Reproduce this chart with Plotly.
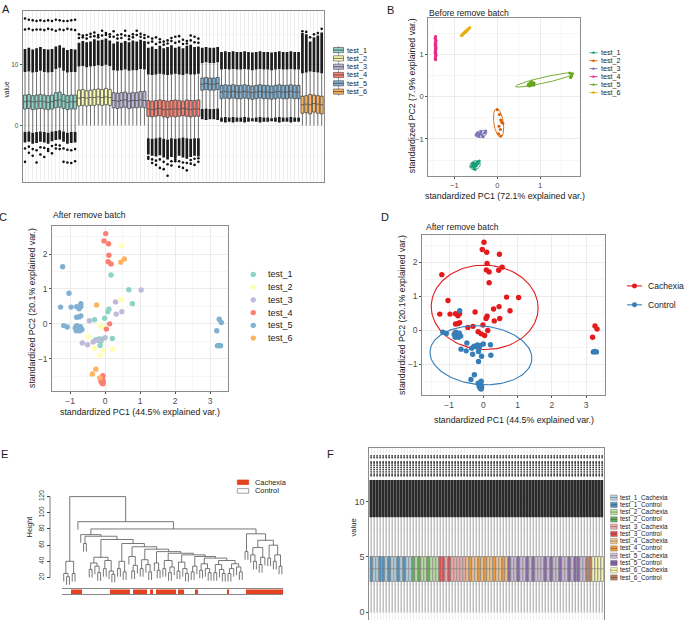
import numpy as np
import plotly.graph_objects as go

W, H = 685, 620
FONT = "Liberation Sans, Arial, Helvetica, sans-serif"
INK = "#1a1a1a"
TICKC = "#4d4d4d"
GRID = "#ebebeb"
MINOR = "#f6f6f6"
FRAME = "#8c8c8c"


def PX(x):
    return x / W


def PY(y):
    return 1 - y / H


# ============================ DATA ============================
batches = ["test_1", "test_2", "test_3", "test_4", "test_5", "test_6"]
batch_sizes = [14, 9, 9, 14, 26, 6]
set3 = ["#8DD3C7", "#FFFFB3", "#BEBADA", "#FB8072", "#80B1D3", "#FDB462"]
dark2 = ["#1B9E77", "#D95F02", "#7570B3", "#E7298A", "#66A61E", "#E6AB02"]
conditions = ["Cachexia", "Control"]
set1 = ["#E41A1C", "#377EB8"]

# ---- Panel A : per-sample box statistics (78 samples in batch order) ----
A_q1 = [2.7, 2.8, 2.6, 2.7, 2.8, 2.7, 2.6, 2.7, 2.9, 3.0, 2.8, 2.6, 2.7, 2.7,
        3.2, 3.3, 3.2, 3.3, 3.3, 3.4, 3.3, 3.4, 3.3,
        2.9, 2.8, 2.9, 3.0, 2.8, 2.9, 2.9, 3.0, 2.9,
        1.5, 1.4, 1.5, 1.6, 1.4, 1.3, 1.5, 1.4, 1.5, 1.6, 1.5, 1.4, 1.5, 1.5,
        5.8, 5.9, 5.8, 5.8, 5.9,
        4.4, 4.5, 4.4, 4.5, 4.4, 4.4, 4.5, 4.4, 4.3, 4.4, 4.5, 4.4, 4.4, 4.3, 4.4, 4.5, 4.4, 4.4, 4.5, 4.4, 4.4,
        2.0, 2.1, 1.9, 2.2, 2.0, 1.9]
A_med = [3.9, 4.0, 3.9, 3.9, 4.0, 3.9, 3.8, 3.9, 4.1, 4.2, 4.0, 3.8, 3.9, 3.9,
         4.5, 4.6, 4.5, 4.6, 4.6, 4.7, 4.6, 4.7, 4.6,
         4.1, 4.0, 4.1, 4.2, 4.0, 4.1, 4.1, 4.2, 4.1,
         2.7, 2.6, 2.7, 2.8, 2.6, 2.6, 2.7, 2.7, 2.7, 2.8, 2.7, 2.6, 2.7, 2.7,
         6.8, 6.9, 6.8, 6.8, 6.9,
         5.5, 5.6, 5.5, 5.6, 5.5, 5.5, 5.6, 5.5, 5.4, 5.5, 5.6, 5.5, 5.5, 5.4, 5.5, 5.6, 5.5, 5.5, 5.6, 5.5, 5.5,
         3.4, 3.5, 3.4, 3.6, 3.5, 3.4]
A_q3 = [5.0, 5.1, 4.9, 5.0, 5.1, 5.0, 4.9, 5.0, 5.4, 5.5, 5.1, 4.9, 5.0, 5.0,
        5.8, 5.9, 5.7, 5.8, 5.9, 6.0, 5.9, 6.1, 5.9,
        5.4, 5.3, 5.4, 5.5, 5.3, 5.4, 5.4, 5.6, 5.6,
        4.1, 4.0, 4.1, 4.2, 4.1, 4.0, 4.1, 4.2, 4.1, 4.0, 4.2, 4.1, 4.1, 4.2,
        7.8, 7.9, 7.8, 7.8, 7.9,
        6.6, 6.7, 6.6, 6.7, 6.6, 6.6, 6.7, 6.6, 6.5, 6.6, 6.7, 6.6, 6.6, 6.5, 6.6, 6.7, 6.6, 6.6, 6.7, 6.6, 6.6,
        4.8, 4.9, 5.1, 5.0, 4.9, 4.8]
A_whisk_lo = [-1.1, -1.0, -1.2, -1.1, -1.0, -1.1, -1.2, -1.0, -0.9, -0.8, -1.0, -1.2, -1.1, -1.1,
              0.0, 0.0, 0.0, 0.0, 0.0, 0.0, 0.0, 0.0, 0.0,
              0.0, 0.0, 0.0, 0.0, 0.0, 0.0, 0.0, 0.0, 0.0,
              -2.1, -2.2, -2.1, -2.0, -2.2, -2.3, -2.1, -2.2, -2.1, -2.0, -2.1, -2.2, -2.1, -2.1,
              2.7, 2.8, 2.7, 2.7, 2.8,
              1.3, 1.4, 1.3, 1.4, 1.3, 1.3, 1.4, 1.3, 1.2, 1.3, 1.4, 1.3, 1.3, 1.2, 1.3, 1.4, 1.3, 1.3, 1.4, 1.3, 1.3,
              0.0, 0.0, 0.0, 0.0, 0.0, 0.0]
A_whisk_hi = [8.8, 8.9, 8.7, 8.8, 9.0, 8.8, 8.7, 8.8, 9.3, 9.5, 9.0, 8.7, 8.8, 8.8,
              9.7, 9.8, 9.6, 9.7, 9.8, 9.9, 9.8, 10.0, 9.8,
              9.1, 9.0, 9.1, 9.2, 9.0, 9.1, 9.1, 9.3, 9.2,
              8.4, 8.3, 8.4, 8.5, 8.4, 8.3, 8.4, 8.5, 8.4, 8.3, 8.5, 8.4, 8.4, 8.5,
              10.3, 10.4, 10.3, 10.3, 10.4,
              9.2, 9.3, 9.2, 9.3, 9.2, 9.2, 9.3, 9.2, 9.1, 9.2, 9.3, 9.2, 9.2, 9.1, 9.2, 9.3, 9.2, 9.2, 9.3, 9.2, 9.2,
              8.6, 8.7, 8.9, 8.8, 8.7, 8.6]
# dense run of upper outliers (from the upper whisker up to this value)
A_dense_top = [12.6, 12.8, 12.5, 12.7, 12.9, 12.6, 12.5, 12.6, 13.0, 13.2, 12.8, 12.4, 12.6, 12.5,
               13.6, 13.9, 13.7, 13.8, 14.2, 14.0, 14.1, 14.3, 14.0,
               13.5, 13.8, 13.6, 13.9, 13.7, 14.0, 13.8, 14.1, 13.9,
               12.8, 13.0, 12.6, 13.1, 12.7, 12.9, 13.2, 12.8, 13.0, 12.7, 13.1, 13.3, 12.9, 13.0,
               12.8, 12.9, 12.8, 12.8, 12.9,
               12.1, 12.2, 12.1, 12.2, 12.1, 12.1, 12.2, 12.1, 12.0, 12.1, 12.2, 12.1, 12.1, 12.0, 12.1, 12.2, 12.1, 12.1, 12.2, 12.1, 12.1,
               15.2, 15.0, 13.8, 14.5, 14.8, 15.3]
# dense run of lower outliers (from the lower whisker down to this value)
A_dense_bot = [-2.8, -2.7, -3.0, -2.9, -2.7, -2.8, -3.0, -2.6, -2.4, -2.3, -2.7, -3.0, -2.9, -2.8,
               0.0, 0.0, 0.0, 0.0, 0.0, 0.0, 0.0, 0.0, 0.0,
               0.0, 0.0, 0.0, 0.0, 0.0, 0.0, 0.0, 0.0, 0.0,
               -4.8, -5.0, -5.1, -4.9, -5.3, -5.6, -5.2, -5.4, -5.0, -5.3, -5.5, -5.2, -5.0, -5.1,
               1.0, 0.9, 1.0, 1.0, 0.9,
               0.6, 0.5, 0.6, 0.5, 0.6, 0.6, 0.5, 0.6, 0.7, 0.6, 0.5, 0.6, 0.6, 0.7, 0.6, 0.5, 0.6, 0.6, 0.5, 0.6, 0.6,
               0.0, 0.0, 0.0, 0.0, 0.0, 0.0]
# isolated extreme outliers, per batch (one value per sample of the batch)
A_far_hi = {
    "test_1": [17.6, 17.4, 17.3, 17.2, 17.3, 17.2, 17.3, 17.2, 17.4, 17.3, 17.2, 17.2, 17.3, 17.4],
    "test_2": [15.0, 14.8, 14.9, 15.1, 15.3, 14.9, 15.6, 15.2, 15.0],
    "test_3": [15.5, 14.9, 15.0, 15.6, 14.7, 15.0, 15.6, 15.1, 14.9],
    "test_4": [14.6, 14.3, 14.5, 14.2, 13.8, 14.0, 14.4, 14.6, 14.7, 14.1, 13.9, 14.8, 14.6, 14.3],
    "test_6": [15.5, 15.4, 14.5, 15.0, 15.2, 15.9],
}
A_mid_hi = {
    "test_1": [15.8, 15.9, 15.7, 15.8, 15.8, 15.7, 15.9, 15.8, 15.6, 15.8, 15.7, 15.9, 15.8, 15.7],
    "test_2": [14.4, 14.5, 14.3, 14.6, 14.7, 14.5, 14.8, 14.9, 14.6],
    "test_3": [14.6, 14.3, 14.4, 14.8, 14.2, 14.5, 14.9, 14.6, 14.4],
    "test_4": [13.6, 13.8, 13.4, 13.7, 13.3, 13.5, 13.9, 13.6, 13.8, 13.4, 13.5, 14.0, 13.7, 13.6],
}
A_far_lo = {
    "test_1": [-6.0, -4.5, -5.0, -6.1, -4.8, -5.2, -4.2, -4.6, -3.8, -3.9, -6.0, -6.1, -6.2, -5.9],
    "test_4": [-5.5, -6.2, -6.5, -7.0, -7.2, -8.3, -6.6, -5.9, -6.8, -7.0, -7.4, -6.3, -6.5, -6.0],
}
A_mid_lo = {
    "test_1": [-3.8, -3.5, -3.9, -4.1, -3.6, -3.7, -3.9, -3.4, -3.2, -3.3, -3.8, -4.0, -4.1, -3.9],
    "test_4": [-5.2, -5.6, -5.8, -5.6, -6.0, -6.4, -5.9, -5.6, -5.9, -6.1, -6.2, -5.7, -5.5, -5.4],
}

# ---- Panel B : PCA before batch removal ----
B_x = {
    "test_1": [-0.58, -0.55, -0.50, -0.47, -0.53, -0.60, -0.45, -0.52, -0.50, -0.57, -0.42, -0.55, -0.49, -0.54],
    "test_2": [0.00, 0.05, 0.08, 0.10, 0.13, 0.04, 0.07, 0.03, 0.08],
    "test_3": [-0.46, -0.41, -0.36, -0.30, -0.43, -0.38, -0.27, -0.49, -0.33],
    "test_4": [-1.44, -1.45, -1.43, -1.44, -1.45, -1.44, -1.43, -1.44, -1.45, -1.44, -1.43, -1.44, -1.45, -1.44],
    "test_5": [1.71, 1.73, 1.74, 1.69, 1.72, 0.72, 0.74, 0.76, 0.78, 0.80, 0.82, 0.75, 0.77, 0.79, 0.81,
               0.83, 0.73, 0.76, 0.78, 0.80, 0.84, 0.86, 0.79, 0.81, 0.77, 0.85],
    "test_6": [-0.82, -0.78, -0.73, -0.69, -0.75, -0.65],
}
B_y = {
    "test_1": [-1.58, -1.62, -1.60, -1.55, -1.66, -1.65, -1.58, -1.72, -1.64, -1.61, -1.52, -1.68, -1.63, -1.57],
    "test_2": [-0.31, -0.42, -0.55, -0.60, -0.63, -0.70, -0.78, -0.88, -0.93],
    "test_3": [-0.86, -0.88, -0.90, -0.86, -0.93, -0.83, -0.81, -0.91, -0.95],
    "test_4": [1.42, 1.38, 1.33, 1.27, 1.22, 1.20, 1.15, 1.10, 1.05, 1.02, 0.98, 0.94, 0.90, 0.87],
    "test_5": [0.45, 0.49, 0.53, 0.56, 0.47, 0.27, 0.28, 0.30, 0.29, 0.31, 0.33, 0.25, 0.32, 0.27, 0.29,
               0.31, 0.30, 0.26, 0.34, 0.28, 0.30, 0.32, 0.30, 0.35, 0.29, 0.27],
    "test_6": [1.45, 1.50, 1.54, 1.58, 1.52, 1.62],
}
# normal-data ellipses (centre, semi-axes, rotation in degrees), one per batch
B_ell_cx = [-0.52, 0.03, -0.38, -1.44, 1.11, -0.745]
B_ell_cy = [-1.62, -0.62, -0.88, 1.15, 0.395, 1.535]
B_ell_a = [0.13, 0.34, 0.14, 0.30, 0.70, 0.17]
B_ell_b = [0.10, 0.11, 0.08, 0.03, 0.07, 0.035]
B_ell_ang = [30, 98, 15, 90, 12.8, 42.6]

# ---- Panels C & D : PCA after batch removal (same samples) ----
PC_x = [0.17, 0.68, 0.78, 0.11, 0.08, -0.30, -0.01, 0.21, -0.27, -0.17, -0.12, -0.14, -0.22, -0.10,
        0.47, 0.46, -0.15, -0.06, -0.48, -0.31, -0.05, 0.22, -0.14,
        1.03, 0.30, 0.32, 0.48, -0.45, 0.00, -0.19, -0.34, -0.65, -0.50,
        0.02, -0.03, 0.10, 0.11, 0.09, 0.17, 0.13, 0.04, -0.06, -0.10, -0.07, -0.12, -0.05, -0.09, -0.06,
        -1.21, -1.03, -1.27, -0.97, -0.81, -0.69, -0.69, -0.74, -0.81, -0.74, -0.69, -1.18, -1.08, -0.83,
        -0.78, -0.85, -0.80, -0.75, -0.70, -0.66, -0.82, -0.72, 3.26, 3.32, 3.19, 3.21, 3.26, 3.30,
        0.55, 0.45, -0.24, -0.26, -0.36, -0.15]
PC_y = [1.40, 0.98, 0.58, 0.42, 0.35, 0.12, 0.16, -0.42, -0.46, -0.43, -0.50, -0.62, -0.47, -0.44,
        2.24, 0.70, -0.04, -0.10, -0.37, -0.70, -0.76, -0.73, -0.91,
        0.97, 0.63, 0.28, 0.35, 0.09, -0.40, -0.47, -0.52, -0.55, -0.60,
        2.59, 2.38, 2.30, 1.97, 1.78, 1.72, 0.00, -0.15, -1.49, -1.55, -1.60, -1.64, -1.67, -1.70, -1.72,
        1.64, 0.88, 0.48, 0.48, 0.49, 0.58, 0.50, 0.43, 0.19, 0.20, 0.23, -0.05, -0.09, -0.08,
        -0.18, -0.12, -0.05, -0.12, -0.08, -0.16, -0.20, -0.20, 0.13, 0.04, -0.20, -0.63, -0.62, -0.63,
        1.86, 1.77, 0.54, -1.30, -1.44, -1.55]
PC_batch = (["test_1"] * 14 + ["test_2"] * 9 + ["test_3"] * 10 + ["test_4"] * 15
            + ["test_5"] * 28 + ["test_6"] * 6)
PC_cond = ["Cachexia"] * 7 + ["Control"] * 7 \
    + ["Cachexia"] * 4 + ["Control"] * 5 \
    + ["Cachexia"] * 5 + ["Control"] * 5 \
    + ["Cachexia"] * 8 + ["Control"] * 7 \
    + ["Cachexia"] * 5 + ["Control"] + ["Cachexia"] * 5 + ["Control"] * 2 + ["Cachexia"] * 2 \
    + ["Control"] * 7 + ["Cachexia"] * 3 + ["Control"] * 3 \
    + ["Cachexia"] * 3 + ["Control"] * 3
D_ell_cx = [0.04, -0.07]
D_ell_cy = [0.68, -0.73]
D_ell_a = [1.56, 1.49]
D_ell_b = [1.24, 0.86]
D_ell_ang = [-2, -5]

# ---- Panel E : hierarchical clustering (height, left, right); 0 = leaf ----
L = 0
E_tree = (120,
          (40, (25, L, (21, L, L)), (25, L, L)),
          (89, L,
           (80,
            (73, L,
             (71, (62, L, L),
              (67, (45, (38, (30, L, L), (34, L, (26, L, L))), (41, (31, L, L), (28, L, (24, L, L)))),
               (62, (40, (31, L, L), (27, L, L)),
                (58, (46, L, (35, (28, L, L), L)),
                 (55, (42, (31, L, L), (36, L, (27, L, L))),
                  (52, (38, L, (29, L, L)),
                   (50, (41, (31, L, L), (33, (26, L, L), L)),
                    (48, (39, (28, L, L), (31, L, (25, L, L))),
                     (46, (34, (27, L, L), L),
                      (44, (37, (29, L, L), (31, L, (26, L, L))),
                       (41, (36, (26, L, L), (30, L, (25, L, L))),
                        (37, (31, (25, L, L), L), (33, L, (27, L, L))))))))))))))),
            (74, (52, L, L),
             (66, (57, (48, L, (40, L, L)), (45, (36, L, L), L)),
              (60, (44, L, L), (48, (40, L, L), (34, L, L))))))))
E_hang = 10
E_runs = [("Control", 3), ("Cachexia", 4), ("Control", 10), ("Cachexia", 7), ("Control", 1),
          ("Cachexia", 5), ("Control", 1), ("Cachexia", 1), ("Control", 1), ("Cachexia", 7),
          ("Control", 1), ("Cachexia", 2), ("Control", 4), ("Cachexia", 1), ("Control", 10),
          ("Cachexia", 1), ("Control", 6), ("Cachexia", 13)]
E_colors = {"Cachexia": "#E4421F", "Control": "#FFFFFF"}
E_height_ticks = [20, 40, 60, 80, 100, 120]

# ---- Panel F : boxplots after normalisation (identical distributions) ----
F_whisk_lo, F_q1, F_median, F_q3, F_whisk_hi = 0.0, 2.77, 3.92, 5.03, 8.58
F_dense_top = 11.95
F_out_levels = [12.35, 12.5, 12.7, 12.9, 13.1, 13.3, 13.5, 13.6, 14.0, 14.15]
F_cond = ["Co", "Ca", "Ca", "Co", "Co", "Ca", "Co", "Ca", "Ca", "Co", "Ca", "Co", "Ca", "Ca",
          "Co", "Ca", "Co", "Ca", "Ca", "Co", "Ca", "Ca", "Ca",
          "Co", "Co", "Ca", "Co", "Ca", "Ca", "Ca", "Ca", "Ca",
          "Ca", "Co", "Ca", "Ca", "Co", "Ca", "Co", "Ca", "Ca", "Co", "Ca", "Ca", "Co", "Ca",
          "Co", "Ca", "Ca", "Co", "Ca", "Ca", "Co", "Ca", "Co", "Ca", "Ca", "Ca", "Co", "Ca",
          "Co", "Ca", "Ca", "Co", "Ca", "Ca", "Co", "Ca", "Co", "Co", "Ca", "Ca",
          "Co", "Co", "Ca", "Ca", "Ca", "Ca"]
F_col_cachexia = ["#A6CEE3", "#B2DF8A", "#FB9A99", "#FDBF6F", "#CAB2D6", "#FFFF99"]
F_col_control = ["#1F78B4", "#33A02C", "#E31A1C", "#FF7F00", "#6A3D9A", "#B15928"]

# ============================ FIGURE ============================
fig = go.Figure()
shapes = []
annos = []


def text(x, y, s, size, color=INK, angle=0, xanchor="left"):
    annos.append(dict(x=PX(x), y=PY(y), xref="paper", yref="paper", text=s, showarrow=False,
                      xanchor=xanchor, yanchor="middle", textangle=angle, borderpad=0,
                      font=dict(family=FONT, size=size, color=color)))


def frame_axis(dom, rng, size=8, **kw):
    d = dict(domain=dom, range=rng, showline=True, mirror=True, linecolor=FRAME, linewidth=1,
             zeroline=False, showgrid=True, gridcolor=GRID, gridwidth=1, ticks="outside",
             ticklen=2, tickwidth=0.7, tickcolor="#555",
             tickfont=dict(family=FONT, size=size, color=TICKC))
    d.update(kw)
    return d


def ellipse(cx, cy, a, b, ang):
    t = np.linspace(0, 2 * np.pi, 120)
    th = np.radians(ang)
    x = cx + a * np.cos(t) * np.cos(th) - b * np.sin(t) * np.sin(th)
    y = cy + a * np.cos(t) * np.sin(th) + b * np.sin(t) * np.cos(th)
    return x, y


sample_pos = np.arange(1, sum(batch_sizes) + 1)
starts = np.cumsum([0] + batch_sizes[:-1])

# ---------------- Panel A ----------------
up_len = [t - h for t, h in zip(A_dense_top, A_whisk_hi)]
lo_len = [l - b for l, b in zip(A_whisk_lo, A_dense_bot)]
fig.add_trace(go.Bar(x=sample_pos, y=up_len, base=A_whisk_hi, width=0.7, marker=dict(color="#1c1c1c", line=dict(width=0)),
                     xaxis="x", yaxis="y", hoverinfo="skip"))
fig.add_trace(go.Bar(x=sample_pos, y=[-v for v in lo_len], base=A_whisk_lo, width=0.7,
                     marker=dict(color="#1c1c1c", line=dict(width=0)), xaxis="x", yaxis="y", hoverinfo="skip"))
for bi, b in enumerate(batches):
    s, n = starts[bi], batch_sizes[bi]
    sl = slice(s, s + n)
    fig.add_trace(go.Box(x=list(sample_pos[sl]), q1=A_q1[sl], median=A_med[sl], q3=A_q3[sl],
                         lowerfence=A_whisk_lo[sl], upperfence=A_whisk_hi[sl], width=0.78,
                         fillcolor=set3[bi], line=dict(color="#3a3a3a", width=0.7), whiskerwidth=0,
                         boxpoints=False, xaxis="x", yaxis="y", hoverinfo="skip"))
ox, oy = [], []
for dct in (A_far_hi, A_mid_hi, A_far_lo, A_mid_lo):
    for b, vals in dct.items():
        bi = batches.index(b)
        ox += list(sample_pos[starts[bi]:starts[bi] + len(vals)])
        oy += vals
fig.add_trace(go.Scatter(x=ox, y=oy, mode="markers", marker=dict(color="#111", size=2.6),
                         xaxis="x", yaxis="y", hoverinfo="skip"))

# ---------------- Panel B ----------------
for bi, b in enumerate(batches):
    ex, ey = ellipse(B_ell_cx[bi], B_ell_cy[bi], B_ell_a[bi], B_ell_b[bi], B_ell_ang[bi])
    fig.add_trace(go.Scatter(x=ex, y=ey, mode="lines", line=dict(color=dark2[bi], width=0.9),
                             xaxis="x2", yaxis="y2", hoverinfo="skip"))
    fig.add_trace(go.Scatter(x=B_x[b], y=B_y[b], mode="markers", marker=dict(color=dark2[bi], size=3),
                             xaxis="x2", yaxis="y2", hoverinfo="skip"))

# ---------------- Panel C ----------------
for bi, b in enumerate(batches):
    idx = [i for i, v in enumerate(PC_batch) if v == b]
    fig.add_trace(go.Scatter(x=[PC_x[i] for i in idx], y=[PC_y[i] for i in idx], mode="markers",
                             marker=dict(color=set3[bi], size=5.4, line=dict(width=0)),
                             xaxis="x3", yaxis="y3", hoverinfo="skip"))

# ---------------- Panel D ----------------
for ci, c in enumerate(conditions):
    idx = [i for i, v in enumerate(PC_cond) if v == c]
    fig.add_trace(go.Scatter(x=[PC_x[i] for i in idx], y=[PC_y[i] for i in idx], mode="markers",
                             marker=dict(color=set1[ci], size=5.4, line=dict(width=0)),
                             xaxis="x4", yaxis="y4", hoverinfo="skip"))
    ex, ey = ellipse(D_ell_cx[ci], D_ell_cy[ci], D_ell_a[ci], D_ell_b[ci], D_ell_ang[ci])
    fig.add_trace(go.Scatter(x=ex, y=ey, mode="lines", line=dict(color=set1[ci], width=1.1),
                             xaxis="x4", yaxis="y4", hoverinfo="skip"))

# ---------------- Panel E ----------------
seg_x, seg_y = [], []
counter = [0]


def walk(node):
    if node == L:
        i = counter[0]
        counter[0] += 1
        return i, None
    h, left, right = node
    xl, hl = walk(left)
    xr, hr = walk(right)
    bl = hl if hl is not None else h - E_hang
    br = hr if hr is not None else h - E_hang
    seg_x.extend([xl, xl, xr, xr, None])
    seg_y.extend([bl, h, h, br, None])
    return (xl + xr) / 2, h


walk(E_tree)
n_leaves = counter[0]
fig.add_trace(go.Scatter(x=seg_x, y=seg_y, mode="lines", line=dict(color="#555", width=0.8),
                         xaxis="x5", yaxis="y5", hoverinfo="skip"))
leaf_cond = []
for c, n in E_runs:
    leaf_cond += [c] * n
fig.add_trace(go.Heatmap(z=[[1 if c == "Cachexia" else 0 for c in leaf_cond]], x=list(range(len(leaf_cond))),
                         y=[0.5], zmin=0, zmax=1, showscale=False,
                         colorscale=[[0, E_colors["Control"]], [1, E_colors["Cachexia"]]],
                         xaxis="x6", yaxis="y6", hoverinfo="skip"))

# ---------------- Panel F ----------------
fx_dense = list(sample_pos)
fig.add_trace(go.Bar(x=fx_dense, y=[F_dense_top - F_whisk_hi] * len(fx_dense), base=F_whisk_hi, width=0.66,
                     marker=dict(color="#2a2a2a", line=dict(width=0)), xaxis="x7", yaxis="y7", hoverinfo="skip"))
fox, foy = [], []
for p in sample_pos:
    for lv in F_out_levels:
        fox.append(p)
        foy.append(lv)
fig.add_trace(go.Scatter(x=fox, y=foy, mode="markers", marker=dict(color="#3a3a3a", size=1.8),
                         xaxis="x7", yaxis="y7", hoverinfo="skip"))
for bi, b in enumerate(batches):
    for cc, cols in (("Ca", F_col_cachexia), ("Co", F_col_control)):
        pos = [int(sample_pos[i]) for i in range(starts[bi], starts[bi] + batch_sizes[bi]) if F_cond[i] == cc]
        if not pos:
            continue
        n = len(pos)
        fig.add_trace(go.Box(x=pos, q1=[F_q1] * n, median=[F_median] * n, q3=[F_q3] * n,
                             lowerfence=[F_whisk_lo] * n, upperfence=[F_whisk_hi] * n, width=0.8,
                             fillcolor=cols[bi], opacity=0.75, line=dict(color="#444", width=0.6),
                             whiskerwidth=0, boxpoints=False, xaxis="x7", yaxis="y7", hoverinfo="skip"))

# ============================ AXES ============================
lay = dict(width=W, height=H, margin=dict(l=0, r=0, t=0, b=0), autosize=False,
           paper_bgcolor="white", plot_bgcolor="white", showlegend=False, barmode="overlay",
           font=dict(family=FONT, color=INK))

# A
lay["xaxis"] = frame_axis([PX(22.7), PX(324)], [0.4, 78.6], anchor="y", tickmode="linear", tick0=1, dtick=1,
                          showticklabels=False, ticks="", gridcolor="#efefef")
lay["yaxis"] = frame_axis([PY(180), PY(8)], [-9.34, 18.85], size=6.5, anchor="x", tickvals=[0, 10],
                          minor=dict(showgrid=True, gridcolor=MINOR, tickvals=[-5, 5, 15]))
# B
lay["xaxis2"] = frame_axis([PX(428.3), PX(580)], [-1.61, 1.93], size=7.6, anchor="y2", tickvals=[-1, 0, 1],
                           minor=dict(showgrid=True, gridcolor=MINOR, tickvals=[-1.5, -0.5, 0.5, 1.5]))
lay["yaxis2"] = frame_axis([PY(174), PY(15)], [-1.88, 1.86], size=7.6, anchor="x2", tickvals=[-1, 0, 1],
                           minor=dict(showgrid=True, gridcolor=MINOR, tickvals=[-1.5, -0.5, 0.5, 1.5]))
# C
lay["xaxis3"] = frame_axis([PX(52.3), PX(228.3)], [-1.506, 3.52], size=8.5, anchor="y3", tickvals=[-1, 0, 1, 2, 3],
                           minor=dict(showgrid=True, gridcolor=MINOR, tickvals=[-1.5, -0.5, 0.5, 1.5, 2.5, 3.5]))
lay["yaxis3"] = frame_axis([PY(390), PY(224)], [-1.93, 2.81], size=8.5, anchor="x3", tickvals=[-1, 0, 1, 2],
                           minor=dict(showgrid=True, gridcolor=MINOR, tickvals=[-1.5, -0.5, 0.5, 1.5, 2.5]))
# D
lay["xaxis4"] = frame_axis([PX(422.3), PX(605.3)], [-1.78, 3.56], size=8.5, anchor="y4", tickvals=[-1, 0, 1, 2, 3],
                           minor=dict(showgrid=True, gridcolor=MINOR, tickvals=[-1.5, -0.5, 0.5, 1.5, 2.5, 3.5]))
lay["yaxis4"] = frame_axis([PY(394), PY(233.3)], [-1.90, 2.80], size=8.5, anchor="x4", tickvals=[-1, 0, 1, 2],
                           minor=dict(showgrid=True, gridcolor=MINOR, tickvals=[-1.5, -0.5, 0.5, 1.5, 2.5]))
# E dendrogram
E_ylo, E_yhi = 10, 125
E_px_per = 0.813
y_top = 577.3 - (E_yhi - 20) * E_px_per
y_bot = 577.3 - (E_ylo - 20) * E_px_per
lay["xaxis5"] = dict(domain=[PX(62.3), PX(283.3)], range=[-0.5, n_leaves - 0.5], visible=False, anchor="y5")
lay["yaxis5"] = dict(domain=[PY(y_bot), PY(y_top)], range=[E_ylo, E_yhi], anchor="free", position=PX(50),
                     showgrid=False, zeroline=False, showline=False, tickvals=E_height_ticks, ticks="outside",
                     ticklen=3, tickwidth=0.7, tickcolor="#444", tickangle=-90,
                     tickfont=dict(family=FONT, size=6.5, color="#333"))
shapes.append(dict(type="line", xref="paper", yref="y5", x0=PX(50), x1=PX(50), y0=20, y1=120,
                   line=dict(color="#444", width=0.7)))
# E colour bar
lay["xaxis6"] = dict(domain=[PX(62.3), PX(283.3)], range=[-0.5, n_leaves - 0.5], anchor="y6", showline=True,
                     mirror=True, linecolor="#888", linewidth=0.8, showticklabels=False, ticks="",
                     showgrid=False, zeroline=False)
lay["yaxis6"] = dict(domain=[PY(594.2), PY(589.2)], range=[0, 1], anchor="x6", visible=False)
# F
lay["xaxis7"] = frame_axis([PX(369.3), PX(604)], [0.4, 78.6], anchor="y7", tickmode="linear", tick0=1, dtick=1,
                           showticklabels=False, ticks="", gridcolor="#efefef")
lay["yaxis7"] = frame_axis([0, PY(446.7)], [-0.72, 14.9], size=9, anchor="x7", tickvals=[0, 5, 10],
                           minor=dict(showgrid=True, gridcolor=MINOR, tickvals=[2.5, 7.5, 12.5]))

# ============================ LEGENDS ============================
# A legend (box keys)
for i, b in enumerate(batches):
    yc = 47.3 + 8.35 * i
    shapes.append(dict(type="line", xref="paper", yref="paper", x0=PX(338.5), x1=PX(338.5), y0=PY(yc - 4), y1=PY(yc + 4),
                       line=dict(color="#555", width=0.6)))
    shapes.append(dict(type="rect", xref="paper", yref="paper", x0=PX(333.5), x1=PX(343.5), y0=PY(yc + 2.6),
                       y1=PY(yc - 2.6), fillcolor=set3[i], line=dict(color="#444", width=0.6)))
    shapes.append(dict(type="line", xref="paper", yref="paper", x0=PX(333.5), x1=PX(343.5), y0=PY(yc), y1=PY(yc),
                       line=dict(color="#333", width=0.7)))
    text(345.5, yc, b, 7.4)
# B legend
for i, b in enumerate(batches):
    yc = 50 + 8 * i
    shapes.append(dict(type="line", xref="paper", yref="paper", x0=PX(589.5), x1=PX(597.5), y0=PY(yc), y1=PY(yc),
                       line=dict(color=dark2[i], width=0.9)))
    shapes.append(dict(type="circle", xref="paper", yref="paper", x0=PX(592.3), x1=PX(594.7), y0=PY(yc + 1.2),
                       y1=PY(yc - 1.2), fillcolor=dark2[i], line=dict(width=0)))
    text(599.5, yc, b, 7.2)
# C legend
for i, b in enumerate(batches):
    yc = 272.7 + 12.8 * i
    shapes.append(dict(type="circle", xref="paper", yref="paper", x0=PX(250.6), x1=PX(256), y0=PY(yc + 2.7),
                       y1=PY(yc - 2.7), fillcolor=set3[i], line=dict(width=0)))
    text(267, yc, b, 9)
# D legend
for i, c in enumerate(conditions):
    yc = 284.3 + 19 * i
    shapes.append(dict(type="line", xref="paper", yref="paper", x0=PX(627), x1=PX(642), y0=PY(yc), y1=PY(yc),
                       line=dict(color=set1[i], width=1.1)))
    shapes.append(dict(type="circle", xref="paper", yref="paper", x0=PX(632), x1=PX(637), y0=PY(yc + 2.5),
                       y1=PY(yc - 2.5), fillcolor=set1[i], line=dict(width=0)))
    text(647, yc, c, 8.6)
# E legend
for i, c in enumerate(["Cachexia", "Control"]):
    yc = 481.6 + 8.7 * i
    shapes.append(dict(type="rect", xref="paper", yref="paper", x0=PX(237.3), x1=PX(248.7), y0=PY(yc + 2.3),
                       y1=PY(yc - 2.3), fillcolor=E_colors[c],
                       line=dict(color=E_colors[c] if c == "Cachexia" else "#777", width=0.7)))
    text(254, yc, c, 7.4)
# F legend
k = 0
for bi, b in enumerate(batches):
    for cc, cols in (("Cachexia", F_col_cachexia), ("Control", F_col_control)):
        yc = 497.0 + 7.3 * k
        shapes.append(dict(type="rect", xref="paper", yref="paper", x0=PX(610.6), x1=PX(617.2), y0=PY(yc + 2.6),
                           y1=PY(yc - 2.6), fillcolor=cols[bi], opacity=0.8, line=dict(color="#555", width=0.5)))
        shapes.append(dict(type="line", xref="paper", yref="paper", x0=PX(610.6), x1=PX(617.2), y0=PY(yc), y1=PY(yc),
                           line=dict(color="#444", width=0.5)))
        text(619.3, yc, f"{b}_{cc}", 6.4)
        k += 1

# ============================ TITLES ============================
text(5.5, 6, "A", 11, xanchor="center")
text(390, 7, "B", 11, xanchor="center")
text(2.5, 215, "C", 11, xanchor="center")
text(385, 215, "D", 11, xanchor="center")
text(4.5, 453, "E", 11, xanchor="center")
text(330.5, 453, "F", 11, xanchor="center")

text(7, 87, "value", 6.8, angle=-90, xanchor="center")
text(428.3, 10, "Before remove batch", 8.6)
text(505, 193.5, "standardized PC1 (72.1% explained var.)", 8.8, xanchor="center")
text(411.7, 93, "standardized PC2 (7.9% explained var.)", 8.8, angle=-90, xanchor="center")
text(52.3, 213.5, "After remove batch", 8.6)
text(140.3, 411, "standardized PC1 (44.5% explained var.)", 8.8, xanchor="center")
text(31.5, 307, "standardized PC2 (20.1% explained var.)", 8.8, angle=-90, xanchor="center")
text(425, 225, "After remove batch", 8.6)
text(513.8, 419, "standardized PC1 (44.5% explained var.)", 8.8, xanchor="center")
text(401.7, 313.7, "standardized PC2 (20.1% explained var.)", 8.8, angle=-90, xanchor="center")
text(30.7, 527, "Height", 7, angle=-90, xanchor="center")
text(353, 527, "value", 7.6, angle=-90, xanchor="center")

lay["shapes"] = shapes
lay["annotations"] = annos
fig.update_layout(**lay)
fig.write_html("out.html", config={"displayModeBar": False},
               post_script="document.body.style.margin='0px';document.body.style.overflow='hidden';")
